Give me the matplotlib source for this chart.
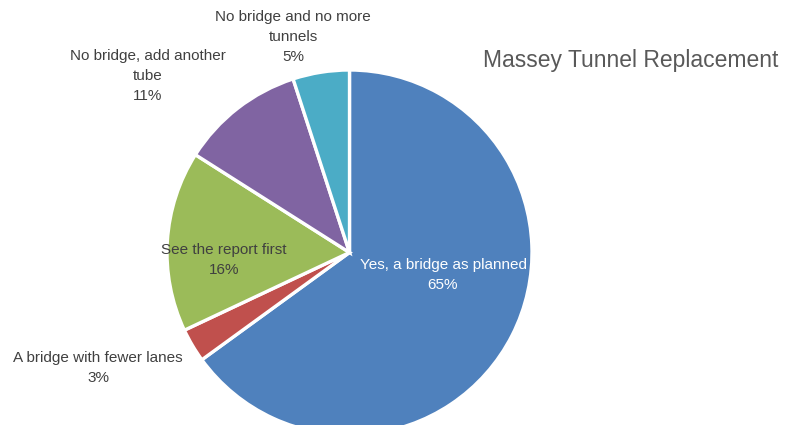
import matplotlib
matplotlib.use('Agg')
import matplotlib.pyplot as plt

# Survey answers, clockwise from 12 o'clock
answers = ['Yes, a bridge as planned', 'A bridge with fewer lanes',
           'See the report first', 'No bridge, add another\ntube',
           'No bridge and no more\ntunnels']
shares = [65, 3, 16, 11, 5]
colors = ['#4F81BD', '#C0504D', '#9BBB59', '#8064A2', '#4BACC6']

TITLE = 'Massey Tunnel Replacement'
R = 182.5  # pie radius in pixels

plt.rcParams['font.family'] = ['Liberation Sans', 'DejaVu Sans']

fig = plt.figure(figsize=(7.94, 4.25), dpi=100)
W, H = 794, 425
cx, cy = 349.5, 252.5  # pie centre, pixels from top-left
ax = fig.add_axes([(cx - R) / W, (H - cy - R) / H, 2 * R / W, 2 * R / H])

ax.pie(shares, colors=colors, startangle=90, counterclock=False, radius=R,
       wedgeprops=dict(edgecolor='white', linewidth=2.4), frame=True)
ax.set_xlim(-R, R)
ax.set_ylim(-R, R)
ax.set_aspect('equal')
ax.axis('off')

# label anchors (pixel offsets from pie centre), inside or outside
label_pos = [(93.5, -22.5), (-251.5, -115.5), (-125.5, -7.5),
             (-201.5, 176.5), (-56.5, 215.5)]
label_col = ['white', '#404040', '#404040', '#404040', '#404040']
for name, val, (lx, ly), c in zip(answers, shares, label_pos, label_col):
    ax.text(lx, ly, f'{name}\n{val}%', ha='center', va='center',
            fontsize=11, color=c, linespacing=1.55, clip_on=False)

fig.text(483 / W, 1 - 60 / H, TITLE, ha='left', va='center',
         fontsize=16.5, color='#595959')

fig.savefig('out.png', dpi=100)
